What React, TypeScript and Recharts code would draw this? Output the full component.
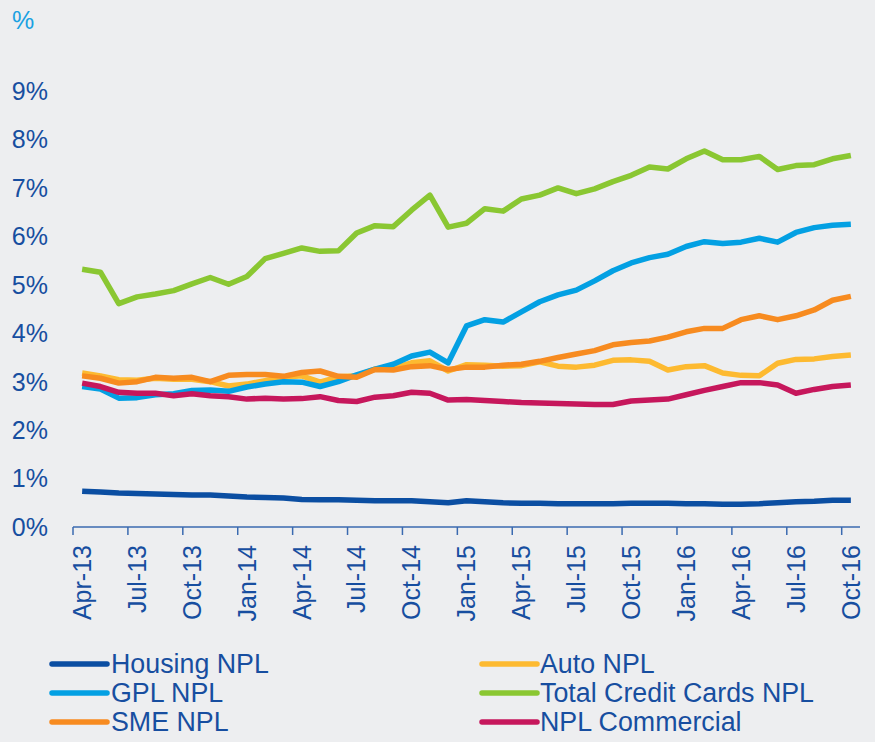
import React from 'react';
import { LineChart, Line, XAxis, YAxis } from 'recharts';

const months = [
  'Apr-13','May-13','Jun-13','Jul-13','Aug-13','Sep-13','Oct-13','Nov-13','Dec-13',
  'Jan-14','Feb-14','Mar-14','Apr-14','May-14','Jun-14','Jul-14','Aug-14','Sep-14','Oct-14','Nov-14','Dec-14',
  'Jan-15','Feb-15','Mar-15','Apr-15','May-15','Jun-15','Jul-15','Aug-15','Sep-15','Oct-15','Nov-15','Dec-15',
  'Jan-16','Feb-16','Mar-16','Apr-16','May-16','Jun-16','Jul-16','Aug-16','Sep-16','Oct-16',
];

const housingNPL = [
  0.74,0.72,0.70,0.69,0.68,0.67,0.66,0.66,0.64,0.62,0.61,0.60,0.57,0.56,0.56,0.55,0.54,0.54,0.54,0.52,0.50,
  0.54,0.52,0.50,0.49,0.49,0.48,0.48,0.48,0.48,0.49,0.49,0.49,0.48,0.48,0.47,0.47,0.48,0.50,0.52,0.53,0.55,0.55,
];
const autoNPL = [
  3.18,3.12,3.04,3.03,3.07,3.05,3.05,3.00,2.91,2.95,3.02,3.09,3.12,2.99,3.10,3.12,3.26,3.28,3.39,3.43,3.22,
  3.35,3.34,3.32,3.33,3.41,3.32,3.30,3.34,3.44,3.45,3.42,3.24,3.31,3.33,3.18,3.13,3.12,3.38,3.46,3.47,3.52,3.55,
];
const gplNPL = [
  2.90,2.85,2.66,2.67,2.73,2.75,2.82,2.83,2.80,2.89,2.95,3.00,2.99,2.90,3.00,3.14,3.26,3.36,3.53,3.61,3.39,
  4.15,4.28,4.23,4.44,4.65,4.79,4.89,5.08,5.29,5.45,5.56,5.63,5.79,5.89,5.85,5.88,5.96,5.88,6.08,6.18,6.23,6.25,
];
const totalCreditCardsNPL = [
  5.32,5.26,4.61,4.75,4.81,4.88,5.02,5.15,5.01,5.17,5.54,5.65,5.76,5.69,5.70,6.07,6.22,6.20,6.54,6.85,6.19,
  6.27,6.57,6.52,6.77,6.85,7.00,6.88,6.98,7.13,7.26,7.43,7.39,7.60,7.76,7.58,7.58,7.65,7.38,7.46,7.48,7.60,7.67,
];
const smeNPL = [
  3.12,3.07,2.97,3.00,3.09,3.07,3.09,3.00,3.13,3.15,3.15,3.11,3.19,3.22,3.11,3.09,3.25,3.24,3.31,3.33,3.25,
  3.30,3.30,3.34,3.36,3.42,3.50,3.57,3.64,3.76,3.81,3.84,3.92,4.03,4.10,4.10,4.28,4.36,4.28,4.36,4.48,4.68,4.76,
];
const nplCommercial = [
  2.97,2.90,2.78,2.76,2.76,2.71,2.75,2.71,2.69,2.64,2.66,2.64,2.65,2.69,2.61,2.59,2.68,2.71,2.78,2.76,2.62,
  2.63,2.61,2.59,2.57,2.56,2.55,2.54,2.53,2.53,2.60,2.62,2.64,2.73,2.82,2.90,2.98,2.98,2.93,2.76,2.84,2.90,2.93,
];

const yTicks = [0, 1, 2, 3, 4, 5, 6, 7, 8, 9];

const series = [
  { key: 'housing', name: 'Housing NPL', color: '#0B4EA2', values: housingNPL },
  { key: 'auto', name: 'Auto NPL', color: '#FDBA31', values: autoNPL },
  { key: 'gpl', name: 'GPL NPL', color: '#03A0E3', values: gplNPL },
  { key: 'tcc', name: 'Total Credit Cards NPL', color: '#8AC732', values: totalCreditCardsNPL },
  { key: 'sme', name: 'SME NPL', color: '#F78B20', values: smeNPL },
  { key: 'com', name: 'NPL Commercial', color: '#C6175C', values: nplCommercial },
];

const data = months.map((m, i) => {
  const row: Record<string, any> = { month: m };
  series.forEach((s) => { row[s.key] = s.values[i]; });
  return row;
});

const W = 875;
const H = 742;
const Y_AXIS_W = 73;
const M_RIGHT = 15;
const M_TOP = 91;
const X_AXIS_H = 215;
const BAND = (W - Y_AXIS_W - M_RIGHT) / months.length;
const FONT = '"Liberation Sans", Arial, sans-serif';
const TEXT_BLUE = '#174EA0';
const AXIS_BLUE = '#3A6AB0';

const XTick = (props: any) => {
  const { x, y, payload } = props;
  const tx = x - BAND / 2;
  return (
    <g>
      <line x1={tx} y1={y} x2={tx} y2={y + 8} stroke={AXIS_BLUE} strokeWidth={1.5} />
      <text
        x={x}
        y={y + 18}
        dy="0.35em"
        transform={`rotate(-90 ${x} ${y + 18})`}
        textAnchor="end"
        fill={TEXT_BLUE}
        fontSize={25}
        fontFamily={FONT}
      >
        {payload.value}
      </text>
    </g>
  );
};

const legendCols = [
  { lineX: 52, textX: 111, items: [series[0], series[2], series[4]] },
  { lineX: 482, textX: 540, items: [series[1], series[3], series[5]] },
];
const legendRowsY = [664, 693, 722];

export default function App() {
  return (
    <div style={{ position: 'absolute', left: 0, top: 0, width: W, height: H, background: '#EDEEF0', fontFamily: FONT }}>
      <LineChart width={W} height={H} data={data} margin={{ top: M_TOP, right: M_RIGHT, left: 0, bottom: 0 }}>
        <XAxis
          dataKey="month"
          type="category"
          scale="band"
          interval={2}
          height={X_AXIS_H}
          tickSize={0}
          tickMargin={0}
          tickLine={false}
          axisLine={{ stroke: AXIS_BLUE, strokeWidth: 1.5 }}
          tick={<XTick />}
        />
        <YAxis
          domain={[0, 9]}
          ticks={yTicks}
          width={Y_AXIS_W}
          axisLine={false}
          tickLine={false}
          tickSize={0}
          tickMargin={25}
          tickFormatter={(v: number) => `${v}%`}
          tick={{ fill: TEXT_BLUE, fontSize: 25, fontFamily: FONT }}
        />
        {series.map((s) => (
          <Line
            key={s.key}
            type="linear"
            dataKey={s.key}
            name={s.name}
            stroke={s.color}
            strokeWidth={5.5}
            dot={false}
            activeDot={false}
            isAnimationActive={false}
            strokeLinejoin="round"
          />
        ))}
      </LineChart>
      <svg width={W} height={H} style={{ position: 'absolute', left: 0, top: 0, pointerEvents: 'none' }}>
        <text x={12} y={20} dy="0.35em" fill="#1AA1E2" fontSize={25} fontFamily={FONT}>%</text>
        {legendCols.map((col, ci) =>
          col.items.map((s, ri) => (
            <g key={`${ci}-${ri}`}>
              <line x1={col.lineX} y1={legendRowsY[ri]} x2={col.lineX + 55} y2={legendRowsY[ri]} stroke={s.color} strokeWidth={5.5} strokeLinecap="round" />
              <text x={col.textX} y={legendRowsY[ri]} dy="0.35em" fill={TEXT_BLUE} fontSize={26.8} fontFamily={FONT}>{s.name}</text>
            </g>
          ))
        )}
      </svg>
    </div>
  );
}
